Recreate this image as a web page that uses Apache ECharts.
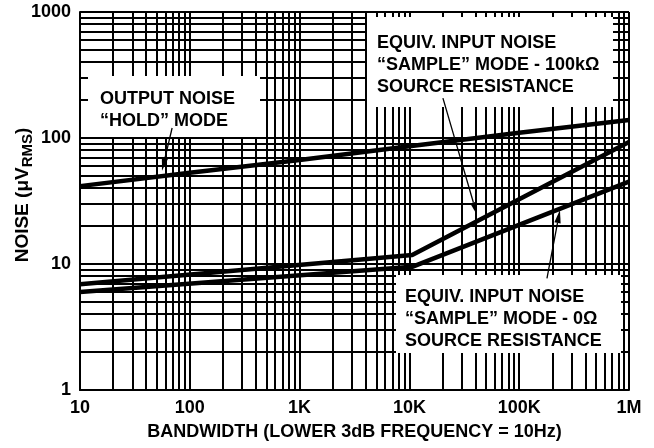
<!DOCTYPE html>
<html>
<head>
<meta charset="utf-8">
<script src="https://cdn.jsdelivr.net/npm/echarts@6/dist/echarts.min.js"></script>
<style>html,body{margin:0;padding:0;background:#fff}#c{width:654px;height:448px}</style>
</head>
<body>
<div id="c"></div>
<script>
// ---- data ----
const holdFreq = [10, 100, 1000, 10000, 100000, 1000000];
const holdNoise = [41.5, 53, 67, 86, 110, 139];
const s100kFreq = [10, 10600, 1000000];
const s100kNoise = [6.9, 11.8, 93];
const s0Freq = [10, 10600, 1000000];
const s0Noise = [6.0, 9.5, 45];
const xTickValues = [10, 100, 1000, 10000, 100000, 1000000];
const xTickLabels = ['10', '100', '1K', '10K', '100K', '1M'];
const yTickValues = [1, 10, 100, 1000];
const yTickLabels = ['1', '10', '100', '1000'];
// arrows: [fromFreq, fromNoise, toFreq, toNoise]
const arrowHold = [69, 120, 55.8, 55];
const arrow100k = [20200, 207, 41300, 24.5];
const arrow0 = [179000, 7.7, 235000, 26.8];

const FONT = '"Liberation Sans", Arial, Helvetica, sans-serif';

function pairs(xs, ys) { return xs.map((x, i) => [x, ys[i]]); }

// grid lines at 1..9 x 10^n
const xGrid = [], yGrid = [];
for (let d = 10; d <= 1000000; d *= 10) for (let k = 1; k <= 9; k++) { const v = k * d; if (v <= 1000000) xGrid.push(v); }
for (let d = 1; d <= 1000; d *= 10) for (let k = 1; k <= 9; k++) { const v = k * d; if (v <= 1000) yGrid.push(v); }

const chart = echarts.init(document.getElementById('c'), null, {renderer: 'canvas'});

const lineStyle = {color: '#000', width: 4.5};

const boxes = [
  {type: 'rect', z: 100, shape: {x: 88, y: 76, width: 172, height: 61}, style: {fill: '#fff'}},
  {type: 'text', z: 101, x: 100, y: 88, style: {text: 'OUTPUT NOISE\n“HOLD” MODE', font: 'bold 18px ' + FONT, lineHeight: 22, fill: '#000', verticalAlign: 'top'}},
  {type: 'rect', z: 100, shape: {x: 367, y: 17, width: 246, height: 90}, style: {fill: '#fff'}},
  {type: 'text', z: 101, x: 377, y: 32, style: {text: 'EQUIV. INPUT NOISE\n“SAMPLE” MODE - 100kΩ\nSOURCE RESISTANCE', font: 'bold 18px ' + FONT, lineHeight: 22, fill: '#000', verticalAlign: 'top'}},
  {type: 'rect', z: 100, shape: {x: 396, y: 275, width: 225, height: 78}, style: {fill: '#fff'}},
  {type: 'text', z: 101, x: 405, y: 286, style: {text: 'EQUIV. INPUT NOISE\n“SAMPLE” MODE - 0Ω\nSOURCE RESISTANCE', font: 'bold 18px ' + FONT, lineHeight: 22, fill: '#000', verticalAlign: 'top'}}
];

const option = {
  animation: false,
  backgroundColor: '#fff',
  textStyle: {fontFamily: FONT},
  grid: {left: 80, right: 25, top: 12, bottom: 58, show: false},
  xAxis: {
    type: 'log', logBase: 10, min: 10, max: 1000000, splitNumber: 5,
    axisLine: {show: true, lineStyle: {color: '#000', width: 2}},
    axisTick: {show: false},
    splitLine: {show: false},
    axisLabel: {
      color: '#000', fontSize: 18, fontWeight: 'bold', fontFamily: FONT, margin: 9,
      formatter: v => { const i = xTickValues.findIndex(t => Math.abs(Math.log10(t) - Math.log10(v)) < 1e-6); return i >= 0 ? xTickLabels[i] : ''; }
    },
    name: 'BANDWIDTH (LOWER 3dB FREQUENCY = 10Hz)',
    nameLocation: 'middle', nameGap: 33, nameMoveOverlap: false,
    nameTextStyle: {color: '#000', fontSize: 18, fontWeight: 'bold', fontFamily: FONT}
  },
  yAxis: {
    type: 'log', logBase: 10, min: 1, max: 1000, splitNumber: 3,
    axisLine: {show: true, lineStyle: {color: '#000', width: 2}},
    axisTick: {show: false},
    splitLine: {show: false},
    axisLabel: {
      color: '#000', fontSize: 18, fontWeight: 'bold', fontFamily: FONT, margin: 9,
      padding: [0, 0, 5, 0],
      formatter: v => { const i = yTickValues.findIndex(t => Math.abs(Math.log10(t) - Math.log10(v)) < 1e-6); return i >= 0 ? yTickLabels[i] : ''; }
    },
    name: 'NOISE (μV{s|RMS})',
    nameLocation: 'middle', nameGap: 45, nameRotate: 90, nameMoveOverlap: false,
    nameTextStyle: {
      color: '#000', fontSize: 19, fontWeight: 'bold', fontFamily: FONT,
      padding: [0, 0, 0, 12],
      rich: {s: {fontSize: 15, fontWeight: 'bold', fontFamily: FONT, color: '#000', padding: [9, 0, 0, 0]}}
    }
  },
  graphic: boxes,
  series: [
    {
      name: 'grid', type: 'line', data: [], z: 1, silent: true,
      markLine: {
        silent: true, symbol: ['none', 'none'], label: {show: false},
        lineStyle: {color: '#000', width: 2, type: 'solid'},
        emphasis: {disabled: true},
        data: xGrid.map(v => ({xAxis: v})).concat(yGrid.map(v => ({yAxis: v})))
      }
    },
    {name: 'hold', type: 'line', z: 3, showSymbol: false, data: pairs(holdFreq, holdNoise), lineStyle: lineStyle},
    {name: 's100k', type: 'line', z: 3, showSymbol: false, data: pairs(s100kFreq, s100kNoise), lineStyle: lineStyle},
    {name: 's0', type: 'line', z: 3, showSymbol: false, data: pairs(s0Freq, s0Noise), lineStyle: lineStyle}
  ]
};
chart.setOption(option);

// arrows placed through the chart's own scales
function arrowEls(a) {
  const p0 = chart.convertToPixel({gridIndex: 0}, [a[0], a[1]]);
  const p1 = chart.convertToPixel({gridIndex: 0}, [a[2], a[3]]);
  const dx = p1[0] - p0[0], dy = p1[1] - p0[1];
  const L = Math.hypot(dx, dy), ux = dx / L, uy = dy / L;
  const len = 13, hw = 3.2;
  const bx = p1[0] - ux * len, by = p1[1] - uy * len;
  return [
    {type: 'line', z: 102, shape: {x1: p0[0], y1: p0[1], x2: bx, y2: by}, style: {stroke: '#000', lineWidth: 1.3}},
    {type: 'polygon', z: 102, shape: {points: [[p1[0], p1[1]], [bx - uy * hw, by + ux * hw], [bx + uy * hw, by - ux * hw]]}, style: {fill: '#000'}}
  ];
}
chart.setOption({graphic: boxes.concat(arrowEls(arrowHold), arrowEls(arrow100k), arrowEls(arrow0))});
</script>
</body>
</html>
